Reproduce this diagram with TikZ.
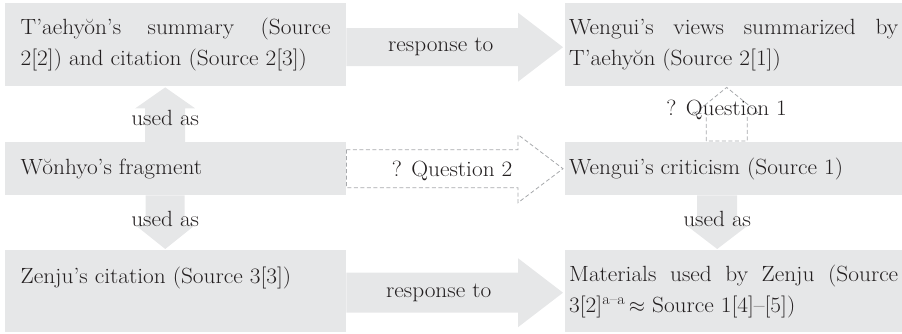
\documentclass[tikz,border=0pt]{standalone}
\usepackage{fontspec}
\setmainfont{Latin Modern Roman}[FakeStretch=1.06]
\usetikzlibrary{calc}

\definecolor{boxgray}{RGB}{230,231,232}
\definecolor{dashgray}{RGB}{167,169,172}
\definecolor{inkgray}{RGB}{35,31,32}

\tikzset{
	srcbox/.style={fill=boxgray,anchor=north west,align=justify,inner xsep=0pt,inner ysep=0pt},
	leftbox/.style={srcbox,text width=310pt,minimum width=341pt},
	rightbox/.style={srcbox,text width=329pt,minimum width=337pt},
	blockarrow/.style={fill=boxgray},
	qarrow/.style={draw=dashgray,line width=0.8pt,dash pattern=on 4pt off 2.5pt},
	lbl/.style={inner sep=0pt}
}

\begin{document}
\begin{tikzpicture}[x=1pt,y=-1pt,font=\fontsize{22}{31}\selectfont,text=inkgray]
	\useasboundingbox (0,0) rectangle (902,334);

	% sources
	\node[leftbox,minimum height=83pt] (sum) at (5,3) {T'aehyŏn's summary (Source\linebreak 2[2]) and citation (Source 2[3])};
	\node[rightbox,minimum height=83pt] (views) at (565,3) {Wengui's views summarized by\linebreak T'aehyŏn (Source 2[1])};
	\node[leftbox,minimum height=53pt] (frag) at (5,142) {Wŏnhyo's fragment};
	\node[rightbox,minimum height=53pt] (crit) at (565,142) {Wengui's criticism (Source 1)};
	\node[leftbox,minimum height=82pt] (zen) at (5,250) {Zenju's citation (Source 3[3])\\\mbox{}};
	\node[rightbox,minimum height=82pt] (mat) at (565,250) {Materials used by Zenju (Source\linebreak 3[2]\textsuperscript{a–a}\,$\approx$ Source 1[4]–[5])};

	% horizontal arrows
	\fill[blockarrow] let \p1=([yshift=-2.5pt]sum.east), \p2=(views.west) in
		(\x1,\y1+19pt) -- (\x2-47pt,\y1+19pt) -- (\x2-47pt,\y1+34.5pt) -- (\x2-2pt,\y1)
		-- (\x2-47pt,\y1-34.5pt) -- (\x2-47pt,\y1-19pt) -- (\x1,\y1-19pt) -- cycle;
	\fill[blockarrow] let \p1=([yshift=-1.5pt]zen.east), \p2=(mat.west) in
		(\x1,\y1+20pt) -- (\x2-47pt,\y1+20pt) -- (\x2-47pt,\y1+34.5pt) -- (\x2-2pt,\y1)
		-- (\x2-47pt,\y1-34.5pt) -- (\x2-47pt,\y1-20pt) -- (\x1,\y1-20pt) -- cycle;
	\draw[qarrow] let \p1=(frag.east), \p2=(crit.west) in
		(\x1,\y1+19pt) -- (\x2-47pt,\y1+19pt) -- (\x2-47pt,\y1+34pt) -- (\x2-2pt,\y1)
		-- (\x2-47pt,\y1-34pt) -- (\x2-47pt,\y1-19pt) -- (\x1,\y1-19pt) -- cycle;

	% vertical arrows
	\fill[blockarrow] let \p1=([xshift=-10.5pt]frag.north), \p2=(sum.south) in
		(\x1-20pt,\y1) -- (\x1-20pt,\y2-22pt) -- (\x1-30pt,\y2-22pt) -- (\x1,\y2-1pt)
		-- (\x1+30pt,\y2-22pt) -- (\x1+20pt,\y2-22pt) -- (\x1+20pt,\y1) -- cycle;
	\fill[blockarrow] let \p1=([xshift=-10.5pt]frag.south), \p2=(zen.north) in
		(\x1-19.5pt,\y1) -- (\x1-19.5pt,\y2+25pt) -- (\x1-30pt,\y2+25pt) -- (\x1,\y2+1pt)
		-- (\x1+30pt,\y2+25pt) -- (\x1+19.5pt,\y2+25pt) -- (\x1+19.5pt,\y1) -- cycle;
	\fill[blockarrow] let \p1=([xshift=-16.5pt]crit.south), \p2=(mat.north) in
		(\x1-20pt,\y1) -- (\x1-20pt,\y2+24pt) -- (\x1-30pt,\y2+24pt) -- (\x1,\y2+1pt)
		-- (\x1+30pt,\y2+24pt) -- (\x1+20pt,\y2+24pt) -- (\x1+20pt,\y1) -- cycle;
	\draw[qarrow] let \p1=([xshift=-7pt]crit.north), \p2=(views.south) in
		(\x1-20.5pt,\y1+1pt) -- (\x1-20.5pt,\y2-27pt) -- (\x1-32pt,\y2-27pt) -- (\x1,\y2-1pt)
		-- (\x1+32pt,\y2-27pt) -- (\x1+20.5pt,\y2-27pt) -- (\x1+20.5pt,\y1+1pt) -- cycle;

	% labels
	\node[lbl] (resp1) at ([xshift=-15pt,yshift=-2.5pt]$(sum.east)!0.5!(views.west)$) {response to};
	\node[lbl] (resp2) at ([xshift=-17pt,yshift=-1.5pt]$(zen.east)!0.5!(mat.west)$) {response to};
	\node[lbl] (q2) at ([xshift=-3.5pt,yshift=-2pt]$(frag.east)!0.5!(crit.west)$) {? Question 2};
	\node[lbl] (q1) at ([xshift=-7pt,yshift=4pt]$(views.south)!0.5!(crit.north)$) {? Question 1};
	\node[lbl] (use1) at ([xshift=-10.5pt,yshift=-3.5pt]$(sum.south)!0.5!(frag.north)$) {used as};
	\node[lbl] (use2) at ([xshift=-10.5pt,yshift=4pt]$(frag.south)!0.5!(zen.north)$) {used as};
	\node[lbl] (use3) at ([xshift=-16.5pt,yshift=4pt]$(crit.south)!0.5!(mat.north)$) {used as};
\end{tikzpicture}
\end{document}
